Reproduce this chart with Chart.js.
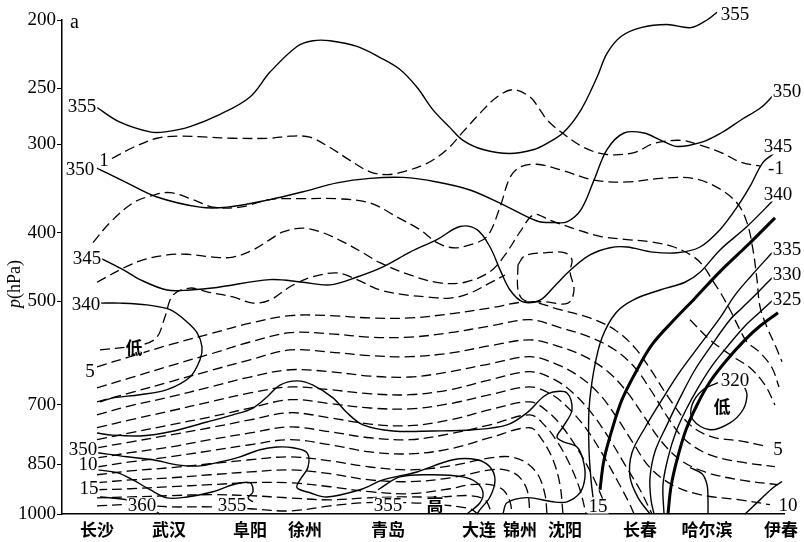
<!DOCTYPE html>
<html>
<head>
<meta charset="utf-8">
<title>剖面图 a</title>
<script src="https://cdn.jsdelivr.net/npm/chart.js@4.4.0/dist/chart.umd.min.js"></script>
<style>
  html, body { margin: 0; padding: 0; background: #fff; }
  #wrap { width: 804px; height: 542px; }
</style>
</head>
<body>
<div id="wrap"><canvas id="chart" width="804" height="542"></canvas></div>
<script>
// stations along the section, x = distance from the left axis
const stations = ['长沙', '武汉', '阜阳', '徐州', '青岛', '大连', '锦州', '沈阳', '长春', '哈尔滨', '伊春'];
const stationPos = [35, 107, 188, 243, 326, 417, 458, 503, 578, 645, 719];
const pressureTicks = [200, 250, 300, 400, 500, 700, 850, 1000];
const sectionLength = 722;

// --- solid isolines (x, pressure in hPa) ---
const th355Top = {
  x: [35, 58, 88, 103, 128, 158, 188, 208, 235, 251, 268, 295, 318, 338, 355, 371, 388, 401, 421, 448, 472, 485, 502, 519, 535, 545, 559, 579, 605, 629, 645, 655],
  p: [266, 279, 288, 288, 283, 272, 257, 237, 218, 214, 214, 218, 226, 235, 249, 268, 284, 296, 305, 309, 305, 299, 288, 268, 241, 223, 211, 205, 203, 205, 200, 195]
};
const th350 = {
  x: [35, 65, 95, 138, 165, 208, 241, 275, 308, 341, 375, 408, 441, 475, 492, 505, 519, 532, 545, 562, 582, 599, 615, 639, 659, 679, 699, 712],
  p: [324, 340, 356, 368, 368, 359, 350, 340, 335, 334, 339, 348, 365, 385, 387, 386, 371, 337, 305, 289, 289, 296, 302, 298, 289, 277, 266, 255]
};
const th345 = {
  x: [38, 61, 78, 105, 128, 155, 208, 241, 268, 295, 321, 348, 375, 398, 415, 428, 438, 448, 461, 478, 492, 509, 528, 548, 565, 591, 615, 638, 658, 675, 688, 701, 712],
  p: [434, 451, 466, 482, 482, 478, 466, 470, 474, 462, 447, 426, 409, 392, 396, 419, 451, 482, 501, 498, 477, 451, 430, 420, 419, 426, 427, 419, 396, 368, 344, 318, 309]
};
const th340East = {
  x: [712, 685, 658, 638, 623, 598, 571, 554, 540, 532, 527, 527, 529, 531],
  p: [359, 392, 423, 455, 470, 482, 498, 519, 563, 625, 712, 811, 894, 947]
};
const th340Low = {
  x: [38, 58, 85, 108, 125, 135, 140, 138, 128, 105, 78, 51, 38],
  p: [503, 503, 506, 514, 535, 554, 580, 605, 640, 667, 678, 685, 694]
};
const thLong = {
  x: [35, 48, 81, 108, 145, 171, 191, 205, 218, 235, 251, 271, 285, 301, 331, 371, 411, 445, 465, 481, 491, 505, 510, 501, 495, 501, 515, 521, 523, 518, 505, 491, 465, 445, 441],
  p: [768, 773, 775, 765, 741, 724, 708, 683, 657, 648, 657, 685, 719, 748, 763, 763, 760, 748, 719, 683, 672, 674, 712, 753, 778, 790, 804, 838, 886, 933, 961, 961, 948, 964, 1000]
};
const th350Low = {
  x: [35, 65, 91, 115, 138, 158, 178, 198, 215, 231, 245, 246, 238, 235, 248, 265, 298, 321, 355, 391, 415, 428, 433, 428, 418, 415],
  p: [819, 830, 838, 852, 855, 844, 830, 811, 804, 806, 819, 858, 895, 918, 933, 946, 924, 895, 872, 838, 838, 858, 895, 946, 986, 1000]
};
const th355Low = {
  x: [35, 55, 71, 88, 105, 125, 151, 171, 188, 191, 186, 191],
  p: [866, 874, 895, 924, 949, 946, 930, 909, 903, 930, 949, 961]
};
const th360 = { x: [38, 65, 85, 98], p: [946, 955, 977, 1000] };
const th355High = {
  x: [316, 338, 371, 401, 415, 421, 418, 405],
  p: [924, 886, 880, 886, 903, 933, 964, 1000]
};
const th335 = {
  x: [710, 690, 673, 658, 638, 618, 600, 583, 570, 568, 576, 588],
  p: [427, 459, 490, 528, 576, 629, 689, 755, 819, 886, 948, 1000]
};
const th330 = {
  x: [711, 695, 680, 668, 650, 633, 618, 605, 593, 588, 589, 592],
  p: [462, 487, 511, 531, 576, 625, 685, 748, 816, 889, 955, 1000]
};
const th325 = {
  x: [711, 698, 683, 666, 650, 636, 624, 614, 606, 601, 602],
  p: [498, 518, 542, 578, 617, 663, 712, 765, 833, 909, 1000]
};
const thBranch = { x: [628, 640, 645, 646, 646], p: [860, 877, 909, 955, 1000] };
const th320Low = {
  x: [656, 641, 630, 631, 648, 668, 681, 685, 682],
  p: [652, 667, 701, 736, 760, 743, 712, 678, 659]
};
const thSouthEast = { x: [683, 698, 711, 720], p: [1000, 955, 918, 900] };

// --- thick frontal lines ---
const front1 = {
  x: [713, 686, 658, 633, 610, 590, 574, 560, 550, 542, 538],
  p: [381, 416, 454, 495, 535, 576, 629, 689, 760, 838, 924]
};
const front2 = {
  x: [716, 698, 683, 665, 648, 635, 624, 615, 609, 606],
  p: [519, 542, 567, 605, 650, 701, 760, 838, 915, 1000]
};

// --- dashed isolines ---
const q1 = {
  x: [50, 71, 95, 118, 145, 171, 208, 228, 248, 268, 288, 308, 325, 341, 365, 385, 401, 418, 435, 451, 468, 478, 485, 499, 522, 545, 572, 592, 619, 639, 659, 679, 698],
  p: [314, 303, 294, 292, 293, 294, 294, 292, 293, 303, 316, 328, 331, 328, 319, 305, 288, 271, 257, 251, 257, 268, 277, 288, 303, 310, 308, 299, 296, 301, 308, 318, 322]
};
const q2 = {
  x: [31, 48, 71, 91, 108, 131, 151, 178, 208, 241, 275, 308, 335, 358, 375, 391, 408, 425, 438, 448, 458, 475, 499, 532, 565, 599, 631, 655, 675, 685, 691, 695, 698, 705, 713, 720],
  p: [413, 387, 363, 354, 351, 359, 368, 368, 359, 358, 358, 363, 380, 396, 413, 420, 416, 405, 368, 334, 323, 320, 326, 337, 339, 335, 335, 345, 363, 387, 423, 466, 509, 544, 576, 609]
};
const q3 = {
  x: [35, 61, 81, 105, 125, 151, 171, 191, 208, 221, 241, 261, 281, 301, 318, 348, 378, 403, 428, 443, 458, 472, 488, 515, 539, 565, 589, 612, 632, 642, 650, 658, 668, 678, 685, 698, 710, 717],
  p: [470, 449, 437, 430, 429, 433, 433, 423, 409, 399, 394, 400, 412, 427, 441, 459, 471, 470, 454, 430, 399, 377, 384, 396, 405, 409, 412, 419, 433, 447, 466, 485, 514, 549, 571, 591, 621, 661]
};
const qLowW = {
  x: [38, 58, 81, 95, 103, 111, 128, 145, 171, 191, 208, 228, 248, 275, 295, 318, 345, 365, 388, 408, 428, 443],
  p: [586, 582, 576, 562, 526, 490, 479, 485, 493, 503, 498, 477, 463, 456, 466, 482, 490, 493, 495, 487, 471, 459]
};
const qBox = {
  x: [456, 463, 483, 503, 510, 508, 512, 506, 483, 462, 456, 456],
  p: [444, 431, 427, 427, 437, 454, 482, 503, 501, 498, 482, 444]
};
const qEast = { x: [628, 648, 671, 688, 703, 713], p: [531, 567, 599, 621, 657, 701] };
const q5 = {
  x: [35, 68, 108, 148, 188, 228, 268, 308, 348, 388, 428, 468, 498, 528, 553, 573, 590, 608, 628, 650, 678, 706],
  p: [619, 599, 576, 556, 537, 524, 524, 528, 528, 521, 511, 501, 514, 528, 549, 582, 629, 689, 748, 778, 788, 803]
};
const q6 = {
  x: [35, 68, 108, 148, 188, 228, 268, 308, 348, 388, 428, 468, 498, 528, 553, 573, 590, 606, 623, 648, 678, 713],
  p: [663, 642, 617, 594, 571, 554, 556, 562, 562, 554, 542, 531, 545, 562, 586, 621, 672, 731, 785, 825, 844, 857]
};
const q7 = {
  x: [35, 68, 108, 148, 188, 228, 268, 308, 348, 388, 428, 468, 498, 523, 546, 565, 581, 598, 618, 643, 678, 716],
  p: [694, 674, 650, 627, 605, 586, 590, 597, 599, 592, 578, 567, 580, 599, 629, 672, 724, 785, 838, 872, 895, 909]
};
const q8 = {
  x: [35, 68, 108, 148, 188, 228, 268, 308, 348, 388, 428, 468, 496, 518, 538, 555, 571, 588, 610, 638, 678, 708],
  p: [724, 703, 683, 661, 640, 625, 629, 638, 640, 629, 613, 599, 615, 640, 678, 731, 793, 860, 909, 939, 955, 970]
};
const q9 = {
  x: [35, 68, 108, 148, 188, 228, 268, 308, 348, 388, 428, 468, 493, 513, 531, 548, 563, 578, 590],
  p: [755, 736, 715, 694, 674, 661, 667, 676, 678, 667, 646, 629, 646, 678, 724, 785, 852, 924, 1000]
};
const q10 = {
  x: [35, 68, 108, 148, 188, 228, 268, 308, 348, 388, 428, 468, 490, 508, 525, 541, 555, 568, 572],
  p: [785, 768, 748, 729, 708, 689, 698, 708, 710, 698, 678, 661, 678, 712, 760, 825, 895, 970, 1000]
};
const q11 = {
  x: [35, 68, 108, 148, 188, 228, 268, 308, 348, 388, 428, 468, 486, 501, 516, 530, 541, 546],
  p: [806, 791, 773, 755, 736, 719, 731, 746, 750, 736, 712, 694, 717, 755, 811, 880, 955, 1000]
};
const q12 = {
  x: [35, 68, 108, 148, 188, 228, 268, 308, 348, 388, 428, 468, 483, 496, 508, 518, 524],
  p: [833, 819, 804, 785, 768, 753, 765, 780, 785, 770, 748, 724, 750, 793, 852, 924, 1000]
};
const q13 = {
  x: [35, 68, 108, 148, 188, 228, 268, 308, 348, 388, 428, 468, 480, 491, 498, 501],
  p: [858, 844, 830, 814, 798, 785, 798, 817, 822, 809, 780, 755, 785, 838, 909, 1000]
};
const q14 = {
  x: [35, 68, 108, 148, 188, 228, 268, 308, 348, 388, 428, 448, 463, 476, 483, 485],
  p: [880, 869, 860, 849, 838, 830, 841, 858, 866, 855, 833, 830, 844, 880, 939, 1000]
};
const q15 = {
  x: [35, 68, 108, 148, 188, 228, 268, 308, 348, 388, 428, 443, 456, 465, 468],
  p: [903, 895, 889, 880, 872, 866, 877, 895, 900, 889, 866, 866, 883, 924, 1000]
};
const q16 = {
  x: [35, 68, 108, 148, 188, 228, 268, 308, 348, 388, 408, 428, 441, 448, 450],
  p: [924, 921, 915, 909, 903, 903, 915, 930, 936, 921, 909, 909, 924, 961, 1000]
};
const q17 = {
  x: [35, 68, 108, 148, 188, 228, 268, 303, 338, 378, 408, 423, 430],
  p: [949, 946, 942, 939, 942, 949, 955, 949, 946, 946, 942, 955, 1000]
};
const q18 = {
  x: [35, 68, 108, 148, 188, 228, 268, 303, 348, 378, 408, 416],
  p: [974, 970, 977, 977, 983, 990, 974, 964, 964, 970, 983, 1000]
};

// contour labels: x, pressure, text
const contourLabels = [
  [20, 265, '355'], [42, 316, '1'], [18, 325, '350'], [25, 434, '345'], [24, 504, '340'],
  [72, 580, '低'], [28, 627, '5'], [21, 809, '350'], [26, 849, '10'], [27, 918, '15'],
  [80, 970, '360'], [170, 970, '355'], [326, 970, '355'], [373, 967, '高'], [536, 973, '15'],
  [673, 196, '355'], [725, 252, '350'], [716, 302, '345'], [714, 324, '-1'], [716, 352, '340'],
  [725, 422, '335'], [725, 457, '330'], [725, 496, '325'], [673, 646, '320'], [660, 703, '低'],
  [716, 809, '5'], [726, 970, '10']
];

const solidLines = [th355Top, th350, th345, th340East, th340Low, thLong, th350Low, th355Low, th360,
  th355High, th335, th330, th325, thBranch, th320Low, thSouthEast];
const thickLines = [front1, front2];
const dashedLines = [q1, q2, q3, qLowW, qBox, qEast, q5, q6, q7, q8, q9, q10, q11, q12, q13, q14, q15, q16, q17, q18];

function toPoints(line) {
  return line.x.map((v, i) => ({ x: v, y: line.p[i] }));
}

function makeSet(line, width, dash) {
  return {
    data: toPoints(line),
    borderColor: '#000',
    borderWidth: width,
    borderDash: dash,
    pointRadius: 0,
    tension: 0.35,
    fill: false,
    clip: false
  };
}

const datasets = [
  ...dashedLines.map(l => makeSet(l, 1.3, [10, 5])),
  ...solidLines.map(l => makeSet(l, 1.4, [])),
  ...thickLines.map(l => makeSet(l, 3, []))
];

const whiteBg = {
  id: 'whiteBg',
  beforeDraw(chart) {
    const ctx = chart.ctx;
    ctx.save();
    ctx.fillStyle = '#fff';
    ctx.fillRect(0, 0, chart.width, chart.height);
    ctx.restore();
  }
};

const annotations = {
  id: 'annotations',
  afterDatasetsDraw(chart) {
    const { ctx, chartArea, scales: { x, y } } = chart;
    ctx.save();
    ctx.textAlign = 'center';
    ctx.textBaseline = 'middle';
    contourLabels.forEach(([xv, pv, text]) => {
      const px = x.getPixelForValue(xv);
      const py = y.getPixelForValue(pv);
      const cjk = /[\u4e00-\u9fff]/.test(text);
      ctx.font = cjk ? 'bold 17px "Noto Sans CJK SC"' : '19px "Liberation Serif"';
      const w = ctx.measureText(text).width;
      ctx.fillStyle = '#fff';
      ctx.fillRect(px - w / 2 - 1, py - 7, w + 2, 15);
      ctx.fillStyle = '#000';
      ctx.fillText(text, px, py + 1);
    });

    // panel letter
    ctx.font = '20px "Liberation Serif"';
    ctx.textAlign = 'left';
    ctx.fillText('a', chartArea.left + 8, chartArea.top + 3);

    // y axis title, italic p
    ctx.translate(15, 284);
    ctx.rotate(-Math.PI / 2);
    ctx.font = 'italic 18px "Liberation Serif"';
    const wp = ctx.measureText('p').width;
    ctx.font = '18px "Liberation Serif"';
    const wr = ctx.measureText('(hPa)').width;
    const start = -(wp + wr) / 2;
    ctx.font = 'italic 18px "Liberation Serif"';
    ctx.fillText('p', start, 0);
    ctx.font = '18px "Liberation Serif"';
    ctx.fillText('(hPa)', start + wp, 0);
    ctx.restore();
  }
};

new Chart(document.getElementById('chart'), {
  type: 'line',
  data: { datasets: datasets },
  options: {
    responsive: false,
    animation: false,
    devicePixelRatio: 1,
    layout: { padding: { left: 0, right: 20, top: 20, bottom: 0 } },
    elements: { line: { capBezierPoints: false } },
    plugins: { legend: { display: false }, tooltip: { enabled: false } },
    scales: {
      x: {
        type: 'linear',
        min: 0,
        max: sectionLength,
        afterFit: s => { s.height = 28; },
        afterBuildTicks: s => { s.ticks = stationPos.map(v => ({ value: v })); },
        ticks: {
          autoSkip: false,
          maxRotation: 0,
          padding: 5,
          color: '#000',
          font: { family: 'Noto Sans CJK SC', size: 17, weight: 'bold' },
          callback: (v, i) => stations[i]
        },
        grid: { drawOnChartArea: false, drawTicks: false },
        border: { display: true, color: '#000', width: 1.5 }
      },
      y: {
        type: 'logarithmic',
        reverse: true,
        min: 200,
        max: 1000,
        afterFit: s => { s.width = 62; },
        afterBuildTicks: s => { s.ticks = pressureTicks.map(v => ({ value: v })); },
        ticks: {
          padding: 1,
          color: '#000',
          font: { family: 'Liberation Serif', size: 19 },
          callback: v => String(v)
        },
        grid: { drawOnChartArea: false, drawTicks: true, tickLength: 5, color: '#000', lineWidth: 1 },
        border: { display: true, color: '#000', width: 1.5 }
      }
    }
  },
  plugins: [whiteBg, annotations]
});
</script>
</body>
</html>
